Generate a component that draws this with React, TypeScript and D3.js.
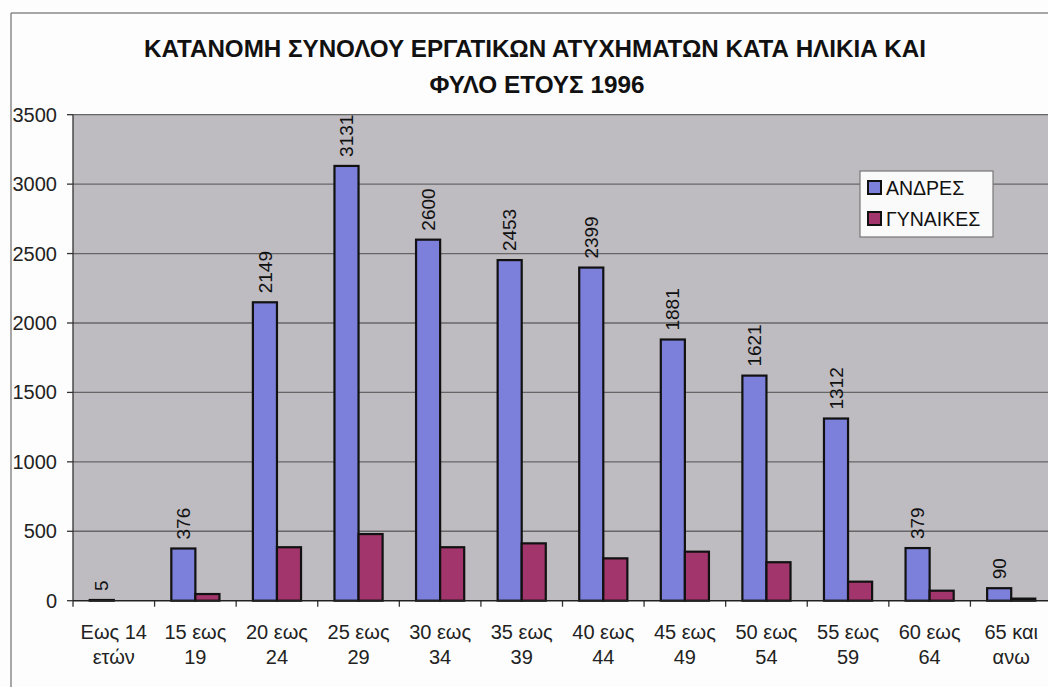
import React from "react";
import * as d3 from "d3";

const title1 = "ΚΑΤΑΝΟΜΗ ΣΥΝΟΛΟΥ ΕΡΓΑΤΙΚΩΝ ΑΤΥΧΗΜΑΤΩΝ ΚΑΤΑ ΗΛΙΚΙΑ ΚΑΙ";
const title2 = "ΦΥΛΟ ΕΤΟΥΣ 1996";
const categories = ["Εως 14|ετών", "15 εως|19", "20 εως|24", "25 εως|29", "30 εως|34", "35 εως|39", "40 εως|44", "45 εως|49", "50 εως|54", "55 εως|59", "60 εως|64", "65 και|ανω"];
const men = [5, 376, 2149, 3131, 2600, 2453, 2399, 1881, 1621, 1312, 379, 90];
const women = [0, 48, 385, 480, 385, 413, 305, 353, 277, 137, 72, 15];
const seriesNames = ["ΑΝΔΡΕΣ", "ΓΥΝΑΙΚΕΣ"];
const yTicks = [0, 500, 1000, 1500, 2000, 2500, 3000, 3500];

const W = 1048, H = 687;
const plot = { left: 73, right: 1052, top: 114.7, bottom: 600.7 };
const colors = ["#7d80da", "#a2356b"];
const font = "'Liberation Sans', Arial, sans-serif";

export default function App() {
  const pad = 0.41;
  const x = d3.scaleBand<string>().domain(categories).range([plot.left, plot.right]).paddingInner(pad).paddingOuter(pad / 2);
  const x1 = d3.scaleBand<string>().domain(seriesNames).range([0, x.bandwidth()]);
  const y = d3.scaleLinear().domain([0, 3500]).range([plot.bottom, plot.top]);
  const step = x.step();
  const series = [men, women];
  return (
    <svg width={W} height={H} style={{ position: "absolute", left: 0, top: 0, background: "#fff" }} fontFamily={font}>
      <rect x={0} y={0} width={W} height={H} fill="#fdfdfd" />
      <line x1={11} x2={W} y1={13} y2={13} stroke="#8a8a8a" strokeWidth={1.5} />
      <line x1={11} x2={11} y1={13} y2={H} stroke="#8a8a8a" strokeWidth={1.5} />
      <text x={535} y={56.5} textAnchor="middle" fontSize={23.5} fontWeight="bold" fill="#111" textLength={782} lengthAdjust="spacingAndGlyphs">{title1}</text>
      <text x={537} y={93} textAnchor="middle" fontSize={23.5} fontWeight="bold" fill="#111" textLength={215} lengthAdjust="spacingAndGlyphs">{title2}</text>
      <rect x={plot.left} y={plot.top} width={plot.right - plot.left} height={plot.bottom - plot.top} fill="#bebbc1" />
      {yTicks.map((t) => (
        <g key={t}>
          {t > 0 && <line x1={plot.left} x2={plot.right} y1={y(t)} y2={y(t)} stroke="#666" strokeWidth={1.3} />}
          <line x1={plot.left - 6} x2={plot.left} y1={y(t)} y2={y(t)} stroke="#333" strokeWidth={1.3} />
          <text x={57} y={y(t)} dy="0.35em" textAnchor="end" fontSize={20} fill="#222">{t}</text>
        </g>
      ))}
      <line x1={plot.left} x2={plot.left} y1={plot.top} y2={plot.bottom} stroke="#333" strokeWidth={1.3} />
      {categories.map((c, i) => {
        const x0 = x(c)! - (step * pad) / 2;
        const [l1, l2] = c.split("|");
        const cx = x(c)! + x.bandwidth() / 2;
        return (
          <g key={c}>
            <line x1={x0} x2={x0} y1={plot.bottom} y2={plot.bottom + 6} stroke="#333" strokeWidth={1.3} />
            <text x={cx} y={639} textAnchor="middle" fontSize={20} fill="#222">{l1}</text>
            <text x={cx} y={664} textAnchor="middle" fontSize={20} fill="#222">{l2}</text>
            {series.map((s, si) => (
              <rect key={si} x={x(c)! + x1(seriesNames[si])!} y={y(s[i])} width={x1.bandwidth()} height={plot.bottom - y(s[i])}
                fill={colors[si]} stroke="#111" strokeWidth={2.2} />
            ))}
            <text transform={`translate(${x(c)! + x1(seriesNames[0])! + x1.bandwidth() / 2},${y(men[i]) - 9}) rotate(-90)`}
              dy="0.35em" fontSize={19} fill="#111">{men[i]}</text>
          </g>
        );
      })}
      <line x1={plot.left} x2={plot.right} y1={plot.bottom} y2={plot.bottom} stroke="#222" strokeWidth={1.5} />
      <g>
        <rect x={860} y={171} width={133} height={66} fill="#fafafa" stroke="#777" strokeWidth={1.2} />
        {seriesNames.map((n, i) => (
          <g key={n}>
            <rect x={868} y={181 + i * 31} width={13} height={13} fill={colors[i]} stroke="#111" strokeWidth={2} />
            <text x={886} y={188 + i * 31} dy="0.35em" fontSize={19.5} fill="#111">{n}</text>
          </g>
        ))}
      </g>
    </svg>
  );
}
